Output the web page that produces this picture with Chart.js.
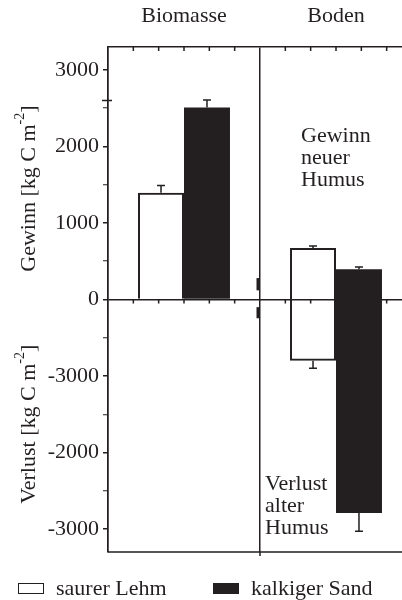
<!DOCTYPE html>
<html>
<head>
<meta charset="utf-8">
<script src="https://cdn.jsdelivr.net/npm/chart.js@4.4.0/dist/chart.umd.min.js"></script>
<style>
  body { margin: 0; background: #fff; overflow: hidden; }
  #wrap { position: relative; width: 412px; height: 600px; }
  .item { position: absolute; top: 576px; height: 24px; display: flex; align-items: center;
          font: 22px 'Liberation Serif', 'Times New Roman', serif; color: #231f20; white-space: nowrap; }
  .box { width: 24px; height: 9px; border: 1.5px solid #231f20; margin-right: 12px; }
</style>
</head>
<body>
<div id="wrap">
  <canvas id="chart" width="412" height="600"></canvas>
  <div class="item" style="left:18px"><span class="box" style="background:#fff"></span>saurer Lehm</div>
  <div class="item" style="left:213px"><span class="box" style="background:#231f20"></span>kalkiger Sand</div>
</div>
<script>
// Daten
const categories = ['Biomasse', 'Boden'];
const lehmRange = [[0, 1395], [-800, 673]];
const sandRange = [[0, 2510], [-2790, 395]];
const lehmErrHigh = [1490, 699];
const lehmErrLow = [null, -900];
const sandErrHigh = [2608, 425];
const sandErrLow = [null, -3030];
const yTickValues = [3000, 2000, 1000, 0, -1000, -2000, -3000];
const yTickLabels = ['3000', '2000', '1000', '0', '-3000', '-2000', '-3000'];

const INK = '#231f20';
const FONT = "'Liberation Serif', 'Times New Roman', serif";

function drawTitle(ctx, cx, cy, main, sup) {
    ctx.save();
    ctx.translate(cx, cy);
    ctx.rotate(-Math.PI / 2);
    ctx.textAlign = 'left';
    ctx.textBaseline = 'alphabetic';
    ctx.font = '22px ' + FONT;
    const w1 = ctx.measureText(main).width;
    const w3 = ctx.measureText(']').width;
    ctx.font = '14px ' + FONT;
    const w2 = ctx.measureText(sup).width;
    const x0 = -(w1 + w2 + w3) / 2;
    ctx.font = '22px ' + FONT;
    ctx.fillText(main, x0, 7);
    ctx.fillText(']', x0 + w1 + w2, 7);
    ctx.font = '14px ' + FONT;
    ctx.fillText(sup, x0 + w1, -4);
    ctx.restore();
}

// Fehlerbalken, Rahmen, Beschriftungen
const decor = {
    id: 'decor',
    afterDraw(chart) {
        const { ctx, chartArea: a, scales: { x, y } } = chart;
        const w = x.getPixelForValue(1) - x.getPixelForValue(0);
        const y0 = y.getPixelForValue(0);
        ctx.save();
        ctx.strokeStyle = INK;
        ctx.fillStyle = INK;
        ctx.lineWidth = 1.5;

        const sets = [[lehmRange, lehmErrHigh, lehmErrLow], [sandRange, sandErrHigh, sandErrLow]];
        sets.forEach(([range, hi, lo], di) => {
            chart.getDatasetMeta(di).data.forEach((bar, i) => {
                const bx = bar.x;
                [[range[i][1], hi[i]], [range[i][0], lo[i]]].forEach(([from, to]) => {
                    if (to === null) return;
                    const p1 = y.getPixelForValue(from), p2 = y.getPixelForValue(to);
                    ctx.beginPath();
                    ctx.moveTo(bx, p1); ctx.lineTo(bx, p2);
                    ctx.moveTo(bx - 4, p2); ctx.lineTo(bx + 4, p2);
                    ctx.stroke();
                });
            });
        });

        // kleine Striche oben und an der Nulllinie
        ctx.beginPath();
        categories.forEach((c, ci) => {
            for (let k = -2; k <= 2; k++) {
                const px = x.getPixelForValue(ci) + k * w / 6;
                ctx.moveTo(px, a.top); ctx.lineTo(px, a.top + 4);
                ctx.moveTo(px, y0); ctx.lineTo(px, y0 + 4);
            }
        });
        // untere Linie
        ctx.moveTo(a.left, a.bottom); ctx.lineTo(a.right, a.bottom);
        const div = x.getPixelForValue(0) + w / 2;
        ctx.moveTo(div, a.bottom); ctx.lineTo(div, a.bottom + 4);
        // Marke auf der y-Achse
        const ym = y.getPixelForValue(2600);
        ctx.moveTo(a.left - 6, ym); ctx.lineTo(a.left + 4, ym);
        ctx.stroke();
        ctx.fillRect(div - 3.5, y.getPixelForValue(280), 2.5, y.getPixelForValue(120) - y.getPixelForValue(280));
        ctx.fillRect(div - 3.5, y.getPixelForValue(-100), 2.5, y.getPixelForValue(-245) - y.getPixelForValue(-100));

        // Textnotizen
        ctx.font = '22px ' + FONT;
        ctx.textAlign = 'left';
        ctx.textBaseline = 'middle';
        const bx = x.getPixelForValue(1);
        ['Gewinn', 'neuer', 'Humus'].forEach((t, i) => ctx.fillText(t, bx - 35, y.getPixelForValue(2130) + i * 22));
        ['Verlust', 'alter', 'Humus'].forEach((t, i) => ctx.fillText(t, bx - 71, y.getPixelForValue(-2420) + i * 22));

        drawTitle(ctx, 28, y.getPixelForValue(1450), 'Gewinn [kg C m', '-2');
        drawTitle(ctx, 28, y.getPixelForValue(-1630), 'Verlust [kg C m', '-2');
        ctx.restore();
    }
};

new Chart(document.getElementById('chart'), {
    type: 'bar',
    data: {
        labels: categories,
        datasets: [
            {
                label: 'saurer Lehm',
                data: lehmRange,
                backgroundColor: 'rgba(255,255,255,0)',
                borderColor: INK,
                borderWidth: 2,
                borderSkipped: c => (c.raw && c.raw[0] === 0 ? 'bottom' : false)
            },
            {
                label: 'kalkiger Sand',
                data: sandRange,
                backgroundColor: INK,
                borderColor: INK,
                borderWidth: 0,
                borderSkipped: false
            }
        ]
    },
    options: {
        responsive: false,
        animation: false,
        categoryPercentage: 0.605,
        barPercentage: 1,
        layout: { padding: { left: 0, right: 0, top: 0, bottom: 48 } },
        plugins: {
            legend: { display: false },
            tooltip: { enabled: false }
        },
        scales: {
            x: {
                position: 'top',
                afterFit: s => { s.height = 47; },
                grid: { offset: true, color: INK, lineWidth: 1.5, drawTicks: false },
                border: { display: true, color: INK, width: 1.5 },
                ticks: { color: INK, font: { family: FONT, size: 22 }, padding: 18 }
            },
            y: {
                min: -3300,
                max: 3300,
                afterFit: s => { s.width = 108; },
                afterBuildTicks: s => {
                    const vals = [];
                    for (let v = -3000; v <= 3000; v += 500) vals.push(v);
                    s.ticks = vals.map(v => ({ value: v }));
                },
                grid: {
                    drawOnChartArea: true,
                    color: c => (c.tick && c.tick.value === 0 ? INK : 'rgba(0,0,0,0)'),
                    lineWidth: 1.5,
                    tickLength: 5,
                    tickColor: INK,
                    tickWidth: c => (c.tick && c.tick.value % 1000 === 0 ? 1.5 : 1)
                },
                border: { display: true, color: INK, width: 1.5 },
                ticks: {
                    color: INK,
                    padding: 4,
                    font: { family: FONT, size: 22 },
                    callback: v => {
                        const i = yTickValues.indexOf(v);
                        return i >= 0 ? yTickLabels[i] : '';
                    }
                }
            }
        }
    },
    plugins: [decor]
});
</script>
</body>
</html>
